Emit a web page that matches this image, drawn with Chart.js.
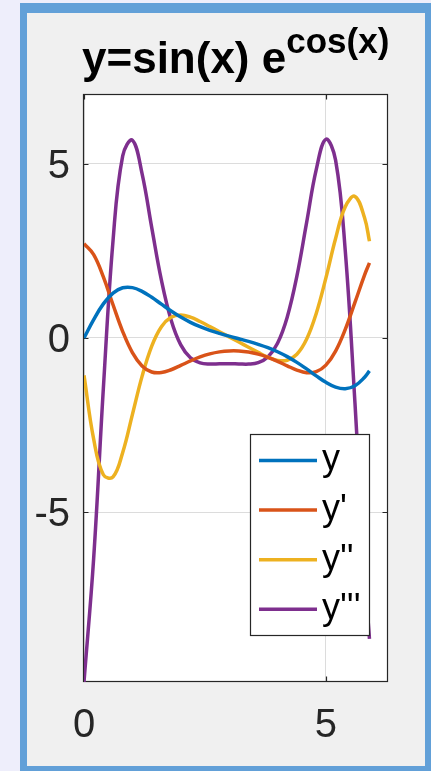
<!DOCTYPE html>
<html>
<head>
<meta charset="utf-8">
<script src="https://cdn.jsdelivr.net/npm/chart.js@4/dist/chart.umd.min.js"></script>
<style>
  html, body { margin: 0; padding: 0; width: 431px; height: 771px; overflow: hidden; background: #eeeefb; }
  #frame { position: absolute; left: 20px; top: 3px; width: 411px; height: 768px; background: #62a0d8; }
  #fig { position: absolute; left: 27px; top: 13px; width: 398px; height: 753px; background: #f0f0f0; }
  #c { position: absolute; left: 0; top: 0; }
  #title { position: absolute; left: 82px; width: 304px; top: 36px; text-align: center;
           font: bold 44px 'Liberation Sans', Arial, sans-serif; line-height: 44px; color: #000; white-space: nowrap; }
  #title span { font-size: 35px; position: relative; top: -20px; }
</style>
</head>
<body>
<div id="frame"></div>
<div id="fig"></div>
<canvas id="c" width="431" height="771"></canvas>
<div id="title">y=sin(x) e<span>cos(x)</span></div>
<script>
// ---- data ----
const xs = [0,0.2,0.4,0.6,0.8,1.0,1.2,1.4,1.6,1.8,2.0,2.2,2.4,2.6,2.8,3.0,3.2,3.4,3.6,3.8,4.0,4.2,4.4,4.6,4.8,5.0,5.2,5.4,5.6,5.8,5.9];
const yVals  = [0,0.529,0.978,1.289,1.440,1.445,1.339,1.168,0.971,0.776,0.600,0.449,0.323,0.219,0.131,0.052,-0.022,-0.097,-0.181,-0.277,-0.394,-0.534,-0.700,-0.888,-1.087,-1.273,-1.412,-1.458,-1.371,-1.126,-0.945];
const d1Vals = [2.705,2.392,1.750,0.953,0.185,-0.419,-0.802,-0.976,-0.991,-0.911,-0.787,-0.658,-0.545,-0.457,-0.399,-0.371,-0.372,-0.403,-0.464,-0.554,-0.669,-0.798,-0.920,-0.995,-0.968,-0.779,-0.377,0.245,1.021,1.813,2.156];
const d2Vals = [-1.073,-2.903,-3.924,-3.986,-3.283,-2.197,-1.101,-0.233,0.323,0.593,0.656,0.596,0.473,0.328,0.179,0.031,-0.117,-0.266,-0.414,-0.549,-0.642,-0.639,-0.466,-0.037,0.704,1.725,2.855,3.767,4.062,3.443,2.775];
const d3Vals = [-9.87,-6.313,-1.448,2.795,5.226,5.674,4.718,3.167,1.659,0.518,-0.197,-0.567,-0.714,-0.748,-0.742,-0.736,-0.743,-0.748,-0.708,-0.546,-0.152,0.597,1.774,3.303,4.832,5.702,5.102,2.498,-1.856,-6.691,-8.63];
const seriesLabels = ["y", "y'", "y''", "y'''"];
const seriesColors = ['#0072BD', '#D95319', '#EDB120', '#7E2F8E'];
const xTicks = [0, 5];
const yTicks = [-5, 0, 5];
const xRange = [0, 6.2832];
const yRange = [-9.87, 7];

const allSeries = [yVals, d1Vals, d2Vals, d3Vals];
const datasets = allSeries.map((vals, i) => ({
  label: seriesLabels[i],
  data: xs.map((x, j) => ({ x: x, y: vals[j] })),
  borderColor: seriesColors[i],
  backgroundColor: seriesColors[i],
  borderWidth: 3.5,
  pointRadius: 0,
  tension: 0.4,
  fill: false
}));

const AXC = '#262626';
const FONT = "'Liberation Sans', Arial, sans-serif";

const framePlugin = {
  id: 'framePlugin',
  beforeDraw(chart) {
    const { ctx, chartArea: a } = chart;
    ctx.save();
    ctx.fillStyle = '#ffffff';
    ctx.fillRect(a.left, a.top, a.right - a.left, a.bottom - a.top);
    ctx.restore();
  },
  beforeDatasetsDraw(chart) {
    const { ctx, chartArea: a, scales } = chart;
    ctx.save();
    ctx.strokeStyle = AXC;
    ctx.lineWidth = 1.2;
    const L = Math.round(a.left) - 0.5, R = Math.round(a.right) - 0.5;
    const T = Math.round(a.top) + 0.5, B = Math.round(a.bottom) - 0.5;
    ctx.strokeRect(L, T, R - L, B - T);
    const tl = 5;
    ctx.beginPath();
    xTicks.forEach(v => {
      const p = Math.round(scales.x.getPixelForValue(v)) + 0.5;
      ctx.moveTo(p, B); ctx.lineTo(p, B - tl);
      ctx.moveTo(p, T); ctx.lineTo(p, T + tl);
    });
    yTicks.forEach(v => {
      const p = Math.round(scales.y.getPixelForValue(v)) + 0.5;
      ctx.moveTo(L, p); ctx.lineTo(L + tl, p);
      ctx.moveTo(R, p); ctx.lineTo(R - tl, p);
    });
    ctx.stroke();
    ctx.restore();
  },
  afterDatasetsDraw(chart) {
    const { ctx } = chart;
    const box = { left: 250, top: 434, right: 370, bottom: 636 };
    ctx.save();
    ctx.fillStyle = '#ffffff';
    ctx.fillRect(box.left, box.top, box.right - box.left, box.bottom - box.top);
    ctx.strokeStyle = AXC;
    ctx.lineWidth = 1.2;
    ctx.strokeRect(box.left + 0.5, box.top + 0.5, box.right - box.left - 1, box.bottom - box.top - 1);
    ctx.font = '36px ' + FONT;
    ctx.textBaseline = 'middle';
    ctx.textAlign = 'left';
    chart.data.datasets.forEach((ds, i) => {
      const yc = 460.5 + i * 49.6;
      ctx.strokeStyle = ds.borderColor;
      ctx.lineWidth = 3.5;
      ctx.beginPath();
      ctx.moveTo(259, yc); ctx.lineTo(317, yc);
      ctx.stroke();
      ctx.fillStyle = '#000000';
      ctx.fillText(ds.label, 322, yc);
    });
    ctx.restore();
  }
};

new Chart(document.getElementById('c'), {
  type: 'line',
  data: { datasets: datasets },
  options: {
    responsive: false,
    animation: false,
    devicePixelRatio: 1,
    layout: { padding: { top: 94, right: 43, left: 0, bottom: 0 } },
    plugins: { legend: { display: false }, title: { display: false }, tooltip: { enabled: false } },
    scales: {
      x: {
        type: 'linear', min: xRange[0], max: xRange[1],
        afterBuildTicks: s => { s.ticks = xTicks.map(v => ({ value: v })); },
        afterFit: s => { s.height = 89; },
        grid: { color: '#dcdcdc', lineWidth: 1, drawTicks: false },
        border: { display: false },
        ticks: { color: AXC, font: { family: FONT, size: 40 }, padding: 20, maxRotation: 0, autoSkip: false }
      },
      y: {
        type: 'linear', min: yRange[0], max: yRange[1],
        afterBuildTicks: s => { s.ticks = yTicks.map(v => ({ value: v })); },
        afterFit: s => { s.width = 84; },
        grid: { color: '#dcdcdc', lineWidth: 1, drawTicks: false },
        border: { display: false },
        ticks: { color: AXC, font: { family: FONT, size: 40 }, padding: 14, labelOffset: 3, autoSkip: false }
      }
    }
  },
  plugins: [framePlugin]
});
</script>
</body>
</html>
